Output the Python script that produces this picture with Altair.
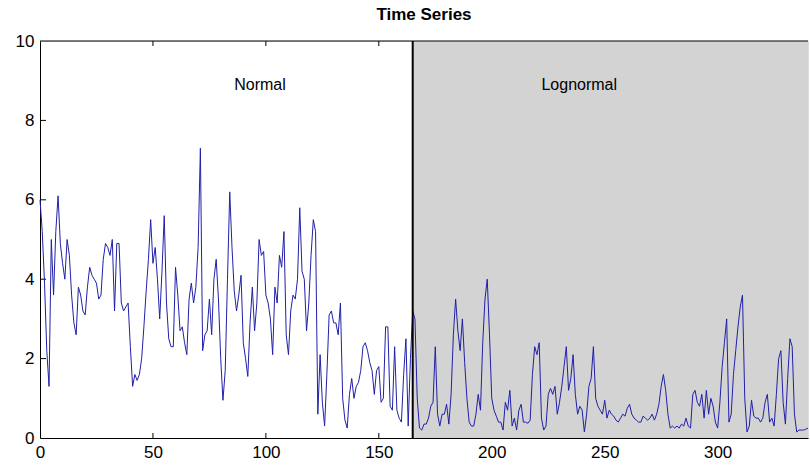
import altair as alt
import pandas as pd

# Samples 0..164 drawn from a normal distribution
normal_values = [
    6.0, 5.2, 3.9, 2.2, 1.3, 5.0, 3.6, 5.2, 6.1, 4.9,
    4.4, 4.0, 5.0, 4.6, 3.6, 2.9, 2.6, 3.8, 3.6, 3.2,
    3.1, 3.8, 4.3, 4.1, 4.0, 3.9, 3.5, 3.6, 4.5, 4.9,
    4.8, 4.6, 5.0, 3.2, 4.9, 4.9, 3.4, 3.2, 3.3, 3.4,
    2.3, 1.3, 1.6, 1.45, 1.6, 2.0, 2.8, 3.7, 4.5, 5.5,
    4.4, 4.8, 4.0, 3.0, 4.2, 5.6, 3.4, 2.5, 2.3, 2.3,
    4.3, 3.6, 2.7, 2.8, 2.4, 2.1, 3.5, 3.9, 3.4, 3.8,
    4.8, 7.3, 2.2, 2.6, 2.7, 3.5, 2.6, 4.0, 4.5, 3.5,
    2.0, 0.95, 1.7, 4.0, 6.2, 4.8, 3.7, 3.2, 3.6, 4.1,
    2.4, 2.0, 1.55, 2.9, 3.8, 2.7, 3.4, 5.0, 4.6, 4.7,
    3.6, 3.4, 3.0, 2.1, 3.8, 3.4, 4.6, 4.3, 5.2, 2.6,
    2.1, 3.2, 3.6, 3.5, 4.0, 5.8, 4.2, 4.0, 2.7, 3.4,
    4.6, 5.5, 5.2, 0.6, 2.1, 0.9, 0.3, 1.6, 3.1, 3.2,
    2.9, 2.9, 2.6, 3.4, 1.0, 0.45, 0.25, 1.1, 1.5, 1.0,
    1.3, 1.4, 1.7, 2.3, 2.4, 2.2, 1.9, 1.7, 1.1, 1.7,
    1.8, 0.9, 1.0, 2.8, 2.8, 0.8, 0.7, 2.3, 0.7, 0.5,
    0.4, 1.6, 2.5, 0.3, 2.0,
]

# Samples 165..340 drawn from a lognormal distribution
lognormal_values = [
    3.2, 3.0, 1.0, 0.25, 0.2, 0.35, 0.35, 0.5, 0.8, 0.9,
    2.3, 0.6, 0.3, 0.6, 0.6, 0.85, 0.35, 1.1, 2.6, 3.5,
    2.7, 2.2, 3.0, 1.9, 1.0, 0.4, 0.3, 0.3, 0.6, 1.1,
    0.7, 2.4, 3.5, 4.0, 2.6, 1.0, 0.7, 0.55, 0.4, 0.4,
    0.2, 0.9, 0.7, 1.2, 0.3, 0.5, 0.2, 0.7, 0.85, 0.4,
    0.4, 0.37, 0.45, 1.6, 2.3, 2.1, 2.4, 0.5, 0.2, 0.3,
    1.1, 1.25, 1.1, 1.3, 0.6, 0.9, 1.3, 1.8, 2.3, 1.2,
    1.5, 2.1, 1.1, 0.6, 0.8, 0.7, 0.15, 0.6, 1.3, 1.5,
    2.3, 1.0, 0.8, 0.7, 0.6, 0.95, 0.5, 0.7, 0.6, 0.55,
    0.45, 0.4, 0.5, 0.6, 0.55, 0.75, 0.85, 0.6, 0.5, 0.45,
    0.4, 0.4, 0.55, 0.5, 0.45, 0.5, 0.6, 0.45, 0.6, 0.85,
    1.3, 1.6, 1.2, 0.6, 0.25, 0.3, 0.25, 0.3, 0.25, 0.35,
    0.3, 0.5, 0.3, 0.25, 1.1, 1.2, 0.9, 0.8, 1.1, 0.5,
    1.2, 0.6, 1.0, 0.8, 0.4, 0.25, 0.9, 1.8, 2.4, 3.0,
    0.4, 0.6, 1.6, 2.2, 2.8, 3.3, 3.6, 1.0, 0.15, 0.3,
    0.95, 0.55, 0.5, 0.5, 0.4, 0.5, 0.9, 1.1, 0.4, 0.5,
    0.3, 1.1, 2.0, 2.2, 0.9, 0.35, 1.5, 2.5, 2.3, 0.6,
    0.15, 0.2, 0.2, 0.2, 0.22, 0.25,
]

switch_at = 165
x_max = 340
y_max = 10
x_ticks = [0, 50, 100, 150, 200, 250, 300]
y_ticks = [0, 2, 4, 6, 8, 10]
region_names = ["Normal", "Lognormal"]
region_label_x = [86, 222]
region_label_y = [8.9, 8.9]

FONT = "Liberation Sans"
PLOT_W, PLOT_H = 768, 397

values = normal_values + lognormal_values
series = pd.DataFrame({"t": list(range(len(values))), "value": values})

x_scale = alt.Scale(domain=[0, x_max], nice=False, zero=False)
y_scale = alt.Scale(domain=[0, y_max], nice=False, zero=True)

x_axis = alt.Axis(
    values=x_ticks, title=None, grid=False, ticks=False, labelFont=FONT,
    labelFontSize=17, labelColor="black", labelPadding=6, domainColor="black",
    domainWidth=1, labelFlush=False,
)
y_axis = alt.Axis(
    values=y_ticks, title=None, grid=False, ticks=False, labelFont=FONT,
    labelFontSize=17, labelColor="black", labelPadding=6, domainColor="black",
    domainWidth=1,
)

# shaded lognormal half
shade_df = pd.DataFrame({"x0": [switch_at], "x1": [x_max], "y0": [0], "y1": [y_max]})
shade = alt.Chart(shade_df).mark_rect(color="#d3d3d3").encode(
    x=alt.X("x0:Q", scale=x_scale, axis=x_axis),
    x2="x1:Q",
    y=alt.Y("y0:Q", scale=y_scale, axis=y_axis),
    y2="y1:Q",
)

# inward tick marks (only on the unshaded side)
inner_x = pd.DataFrame({"x": [v for v in x_ticks if 0 < v < switch_at]})
inner_y = pd.DataFrame({"y": [v for v in y_ticks if 0 < v < y_max]})
ticks_bottom = alt.Chart(inner_x).mark_rule(color="black", strokeWidth=1).encode(
    x=alt.X("x:Q", scale=x_scale), y=alt.value(PLOT_H), y2=alt.value(PLOT_H - 5)
)
ticks_top = alt.Chart(inner_x).mark_rule(color="black", strokeWidth=1).encode(
    x=alt.X("x:Q", scale=x_scale), y=alt.value(0), y2=alt.value(5)
)
ticks_left = alt.Chart(inner_y).mark_rule(color="black", strokeWidth=1).encode(
    y=alt.Y("y:Q", scale=y_scale), x=alt.value(0), x2=alt.value(6)
)

line = alt.Chart(series).mark_line(color="#2020a8", strokeWidth=1).encode(
    x=alt.X("t:Q", scale=x_scale),
    y=alt.Y("value:Q", scale=y_scale),
)

# boundary between the two regimes
split_df = pd.DataFrame({"x": [switch_at], "y0": [0], "y1": [y_max]})
split = alt.Chart(split_df).mark_rule(color="black", strokeWidth=2).encode(
    x=alt.X("x:Q", scale=x_scale), y=alt.Y("y0:Q", scale=y_scale), y2="y1:Q"
)

# top border of the axes box
frame_df = pd.DataFrame({"x0": [0], "x1": [x_max], "y": [y_max]})
top_border = alt.Chart(frame_df).mark_rule(color="black", strokeWidth=1).encode(
    x=alt.X("x0:Q", scale=x_scale), x2="x1:Q", y=alt.Y("y:Q", scale=y_scale)
)

labels_df = pd.DataFrame({"x": region_label_x, "y": region_label_y, "name": region_names})
labels = alt.Chart(labels_df).mark_text(
    align="left", baseline="middle", font=FONT, fontSize=16, color="black"
).encode(
    x=alt.X("x:Q", scale=x_scale), y=alt.Y("y:Q", scale=y_scale), text="name:N"
)

chart = alt.layer(
    shade, ticks_bottom, ticks_top, ticks_left, line, split, top_border, labels
).properties(
    width=PLOT_W,
    height=PLOT_H,
    title=alt.TitleParams(
        "Time Series", font=FONT, fontSize=17, fontWeight="bold", color="black",
        anchor="middle", offset=8,
    ),
    padding={"left": 40, "top": 41, "right": 2, "bottom": 28},
    autosize=alt.AutoSizeParams(type="none"),
).configure_view(stroke=None).configure(background="white")

chart.save("out.html", embed_options={"renderer": "svg", "actions": False})
